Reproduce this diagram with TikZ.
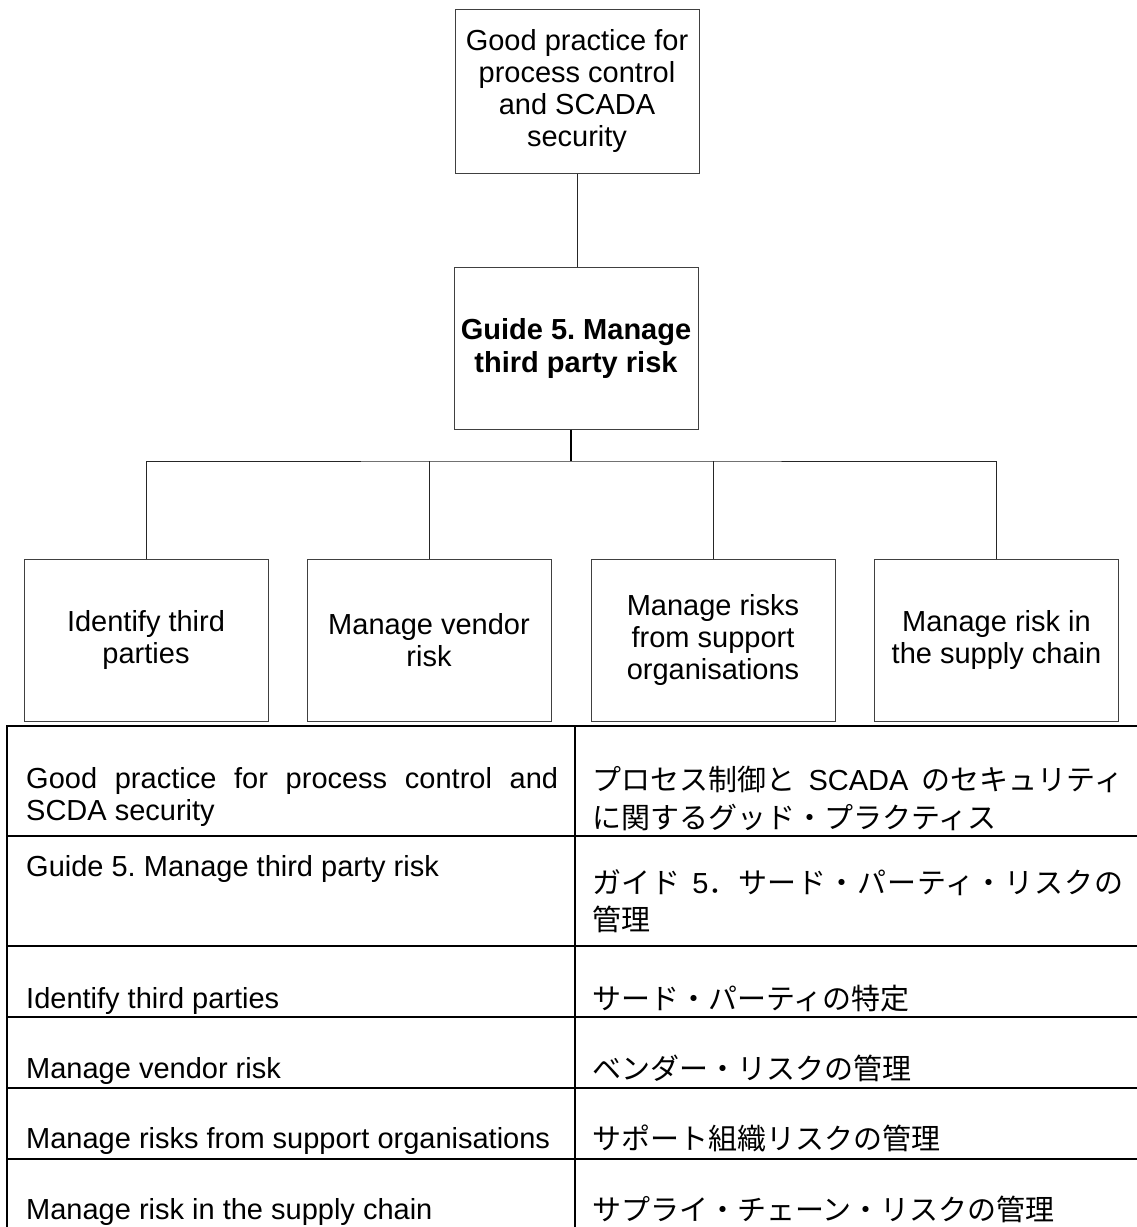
\documentclass[tikz,border=0pt]{standalone}
\usepackage{fontspec}
\setmainfont{Liberation Sans}
\newfontfamily\cjk{Noto Sans CJK JP}
\newfontfamily\cjkwide{Noto Sans CJK JP}[LetterSpace=2.8]
\newcommand\jp[1]{{\cjk #1}}
\newcommand\jpw[1]{{\cjkwide #1}}
\frenchspacing
\begin{document}
\begin{tikzpicture}[x=1pt,y=-1pt,
  box/.style={draw=black!75, line width=1pt, align=center, minimum width=244pt,
    minimum height=162pt, inner sep=0pt, font=\fontsize{29pt}{32pt}\selectfont},
  conn/.style={draw=black!85, line width=1pt},
  hubconn/.style={draw=black, line width=1.8pt},
  gridline/.style={draw=black, line width=2.6pt, line cap=rect},
  cell/.style={anchor=base west, inner sep=0pt, font=\fontsize{29pt}{32pt}\selectfont\frenchspacing}]
\useasboundingbox[fill=white] (0,0) rectangle (1137,1227);

% tree
\node[box, minimum width=244pt, minimum height=164pt] (top) at (577,91)
  {Good practice for\\process control\\and SCADA\\security};
\node[box, font=\fontsize{29pt}{33pt}\selectfont\bfseries\frenchspacing] (guide) at (576,348)
  {Guide 5. Manage\\third party risk};
\node[box] (b1) at (146,640) {Identify third\\parties};
\node[box] (b2) at (429,640) {Manage vendor\\risk};
\node[box] (b3) at (713,640) {Manage risks\\from support\\organisations};
\node[box] (b4) at (996.5,640) {Manage risk in\\the supply chain};
\coordinate (hub) at (571,461);

\draw[conn] (top.south) -- (top.south |- guide.north);
\draw[hubconn] (guide.south -| hub) -- (hub);
\draw[conn] (b1.north) |- (hub) -| (b4.north);
\draw[conn] (b2.north) -- (b2.north |- hub);
\draw[conn] (b3.north) -- (b3.north |- hub);

% table
\foreach \yy in {726,836,946,1017,1088,1159}
  \draw[gridline] (7,\yy) -- (1137,\yy);
\draw[gridline] (7,726) -- (7,1240);
\draw[gridline] (575,726) -- (575,1240);

\node[cell] (e1a) at (26,788) {\makebox[532pt][s]{Good practice for process control and}};
\node[cell] (e1b) at (26,820) {SCDA security};
\node[cell] (j1a) at (592,790) {\makebox[531pt][s]{\jp{プロセス制御と} SCADA \jp{のセキュリティ}}};
\node[cell] (j1b) at (592,828) {\jp{に関するグッド・プラクティス}};
\node[cell] (e2) at (26,876) {Guide 5. Manage third party risk};
\node[cell] (j2a) at (592,893) {\makebox[531pt][s]{\jpw{ガイド} 5\jpw{．サード・パーティ・リスクの}}};
\node[cell] (j2b) at (592,930) {\jp{管理}};
\node[cell] (e3) at (26,1008) {Identify third parties};
\node[cell] (j3) at (592,1009) {\jp{サード・パーティの特定}};
\node[cell] (e4) at (26,1078) {Manage vendor risk};
\node[cell] (j4) at (592,1079) {\jp{ベンダー・リスクの管理}};
\node[cell] (e5) at (26,1148) {Manage risks from support organisations};
\node[cell] (j5) at (592,1149) {\jp{サポート組織リスクの管理}};
\node[cell] (e6) at (26,1219) {Manage risk in the supply chain};
\node[cell] (j6) at (592,1220) {\jp{サプライ・チェーン・リスクの管理}};
\end{tikzpicture}
\end{document}
